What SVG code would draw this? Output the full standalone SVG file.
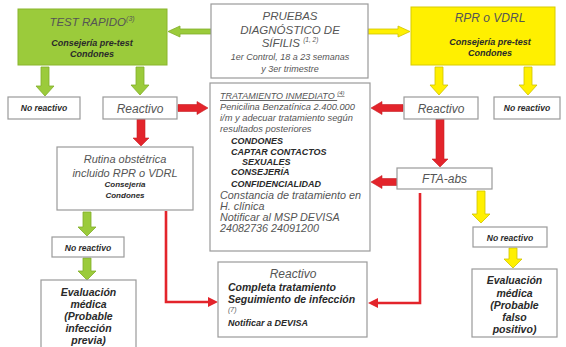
<svg xmlns="http://www.w3.org/2000/svg" width="566" height="347" viewBox="0 0 566 347">
<defs>
<style>
.box{fill:#fff;stroke:#9a9a9a;stroke-width:1.2}
.green{fill:#9BCB3B;stroke:#8ab52c;stroke-width:1}
.yellow{fill:#FFF000;stroke:#d8cc00;stroke-width:1}
text{font-family:"Liberation Sans",Arial,sans-serif;text-anchor:middle}
.t{font-style:italic;fill:#555}
.b{font-style:italic;font-weight:bold;fill:#2a2a2a}
.l{text-anchor:start}
.ga{fill:#9BCB3B;stroke:#82ad2a;stroke-width:0.8}
.ya{fill:#FFF000;stroke:#cfc300;stroke-width:0.8}
.ra{fill:#E3242B;stroke:#c81e24;stroke-width:0.6}
.rl{fill:none;stroke:#E3242B;stroke-width:2.6}
</style>
<marker id="rh" viewBox="0 0 10 10" refX="9" refY="5" markerWidth="4" markerHeight="4" orient="auto" markerUnits="strokeWidth">
<path d="M0,0 L10,5 L0,10 z" fill="#E3242B"/>
</marker>
</defs>
<rect width="566" height="347" fill="#fff"/>

<g id="connectors">
<!-- Pruebas -> Test rapido -->
<polygon class="ga" points="211,29 180,29 180,26 168,31.5 180,37 180,34 211,34"/>
<!-- Pruebas -> RPR -->
<polygon class="ya" points="368,29 398,29 398,26 410,31.5 398,37 398,34 368,34"/>
<!-- green downs from Test rapido -->
<polygon class="ga" points="41,67 49,67 49,86 54,86 45,96 36,86 41,86"/>
<polygon class="ga" points="136,67 144,67 144,85 149,85 140,95 131,85 136,85"/>
<!-- yellow downs from RPR -->
<polygon class="ya" points="435,67 443,67 443,85 448,85 439,95 430,85 435,85"/>
<polygon class="ya" points="524,67 532,67 532,85 537,85 528,95 519,85 524,85"/>
<!-- red: Reactivo left -> Tratamiento -->
<polygon class="ra" points="178,104.5 197,104.5 197,101.5 208,108 197,114.5 197,111.5 178,111.5"/>
<!-- red: Reactivo left -> Rutina -->
<polygon class="ra" points="137,119 145,119 145,138 149,138 141,146 133,138 137,138"/>
<!-- red: Reactivo right -> Tratamiento -->
<polygon class="ra" points="403,104.5 382,104.5 382,101.5 371,108 382,114.5 382,111.5 403,111.5"/>
<!-- red: Reactivo right -> FTA -->
<polygon class="ra" points="436,119 444,119 444,159 448,159 440,167 432,159 436,159"/>
<!-- red: FTA -> Tratamiento -->
<polygon class="ra" points="397,178.5 382,178.5 382,175.5 371,182 382,188.5 382,185.5 397,185.5"/>
<!-- thin red: Rutina -> bottom Reactivo -->
<polyline class="rl" points="166,211 166,302 209,302"/>
<polygon fill="#E3242B" points="218,302 208,297 208,307"/>
<!-- thin red: FTA -> bottom Reactivo -->
<polyline class="rl" points="420,193 420,303 377,303"/>
<polygon fill="#E3242B" points="368,303 378,298 378,308"/>
<!-- green downs lower left -->
<polygon class="ga" points="83,212 91,212 91,227 96,227 87,236 78,227 83,227"/>
<polygon class="ga" points="83,258 91,258 91,271 96,271 87,280 78,271 83,271"/>
<!-- yellow downs lower right -->
<polygon class="ya" points="477,191 485,191 485,214 490,214 481,223 472,214 477,214"/>
<polygon class="ya" points="509,248 517,248 517,259 522,259 513,268 504,259 509,259"/>
</g>

<g id="test-rapido">
<rect class="green" x="18" y="9" width="149" height="56"/>
<text class="t" x="92" y="26" font-size="11.5" fill="#333">TEST RAPIDO<tspan font-size="7" dy="-5">(3)</tspan></text>
<text class="b" x="92" y="46" font-size="9">Consejería pre-test</text>
<text class="b" x="92" y="57" font-size="9">Condones</text>
</g>

<g id="pruebas">
<rect class="box" x="211" y="4" width="157" height="74"/>
<text class="t" x="290" y="20" font-size="11.5">PRUEBAS</text>
<text class="t" x="290" y="34" font-size="11.5">DIAGNÓSTICO DE</text>
<text class="t" x="290" y="47" font-size="11.5">SÍFILIS <tspan font-size="6.5" dy="-5">(1, 2)</tspan></text>
<text class="t" x="290" y="60" font-size="9">1er Control, 18 a 23 semanas</text>
<text class="t" x="290" y="71.5" font-size="9">y 3er trimestre</text>
</g>

<g id="rpr">
<rect class="yellow" x="411" y="7" width="144" height="58"/>
<text class="t" x="490" y="22" font-size="12">RPR o VDRL</text>
<text class="b" x="490" y="45" font-size="9">Consejería pre-test</text>
<text class="b" x="490" y="56" font-size="9">Condones</text>
</g>

<g id="no-reactivo-1">
<rect class="box" x="8" y="97" width="72" height="22"/>
<text class="b" x="44" y="111" font-size="8.5">No reactivo</text>
</g>

<g id="reactivo-1">
<rect class="box" x="103" y="97" width="74" height="22"/>
<text class="t" x="140" y="112.5" font-size="12">Reactivo</text>
</g>

<g id="reactivo-2">
<rect class="box" x="404" y="97" width="74" height="22"/>
<text class="t" x="441" y="112.5" font-size="12">Reactivo</text>
</g>

<g id="no-reactivo-2">
<rect class="box" x="494" y="97" width="66" height="22"/>
<text class="b" x="527" y="111" font-size="8.5">No reactivo</text>
</g>

<g id="tratamiento">
<rect class="box" x="210" y="83" width="160" height="168"/>
<text class="t l" x="220" y="99" font-size="9" text-decoration="underline">TRATAMIENTO INMEDIATO <tspan font-size="6" dy="-4">(4)</tspan></text>
<text class="t l" x="220" y="110" font-size="9.3">Penicilina Benzatínica 2.400.000</text>
<text class="t l" x="220" y="121" font-size="9.3">i/m y adecuar tratamiento según</text>
<text class="t l" x="220" y="132" font-size="9.3">resultados posteriores</text>
<text class="b l" x="231" y="143.5" font-size="9">CONDONES</text>
<text class="b l" x="231" y="154.5" font-size="9">CAPTAR CONTACTOS</text>
<text class="b l" x="242" y="165" font-size="9">SEXUALES</text>
<text class="b l" x="231" y="175" font-size="9">CONSEJERÍA</text>
<text class="b l" x="231" y="187" font-size="9">CONFIDENCIALIDAD</text>
<text class="t l" x="220" y="198.5" font-size="10.8">Constancia de tratamiento en</text>
<text class="t l" x="220" y="209.5" font-size="10.8">H. clínica</text>
<text class="t l" x="220" y="220.5" font-size="10.8">Notificar al MSP DEVISA</text>
<text class="t l" x="220" y="231.5" font-size="10.8">24082736 24091200</text>
</g>

<g id="rutina">
<rect class="box" x="57" y="147" width="136" height="63"/>
<text class="t" x="125" y="163" font-size="11">Rutina obstétrica</text>
<text class="t" x="125" y="177" font-size="11">incluido RPR o VDRL</text>
<text class="b" x="125" y="187" font-size="8">Consejería</text>
<text class="b" x="125" y="198" font-size="8">Condones</text>
</g>

<g id="fta-abs">
<rect class="box" x="397" y="168" width="95" height="21"/>
<text class="t" x="444.5" y="183" font-size="12">FTA-abs</text>
</g>

<g id="no-reactivo-3">
<rect class="box" x="52" y="237" width="72" height="20"/>
<text class="b" x="88" y="250.5" font-size="8.5">No reactivo</text>
</g>

<g id="no-reactivo-4">
<rect class="box" x="473" y="227" width="74" height="20"/>
<text class="b" x="510" y="240.5" font-size="8.5">No reactivo</text>
</g>

<g id="evaluacion-1">
<rect class="box" x="41" y="280" width="95" height="75"/>
<text class="b" x="88.5" y="295.5" font-size="10.5">Evaluación</text>
<text class="b" x="88.5" y="308" font-size="10.5">médica</text>
<text class="b" x="88.5" y="320" font-size="10.5">(Probable</text>
<text class="b" x="88.5" y="332" font-size="10.5">infección</text>
<text class="b" x="88.5" y="344" font-size="10.5">previa)</text>
</g>

<g id="evaluacion-2">
<rect class="box" x="472" y="269" width="85" height="68"/>
<text class="b" x="514.5" y="284" font-size="10.5">Evaluación</text>
<text class="b" x="514.5" y="296.5" font-size="10.5">médica</text>
<text class="b" x="514.5" y="308.5" font-size="10.5">(Probable</text>
<text class="b" x="514.5" y="320.5" font-size="10.5">falso</text>
<text class="b" x="514.5" y="333" font-size="10.5">positivo)</text>
</g>

<g id="reactivo-final">
<rect class="box" x="218" y="262" width="149" height="75"/>
<text class="t" x="293" y="278" font-size="12">Reactivo</text>
<text class="b l" x="228" y="290.5" font-size="10.5">Completa tratamiento</text>
<text class="b l" x="228" y="303" font-size="10.5">Seguimiento de infección</text>
<text class="t l" x="228" y="312" font-size="7">(7)</text>
<text class="b l" x="228" y="326" font-size="9">Notificar a DEVISA</text>
</g>
</svg>
